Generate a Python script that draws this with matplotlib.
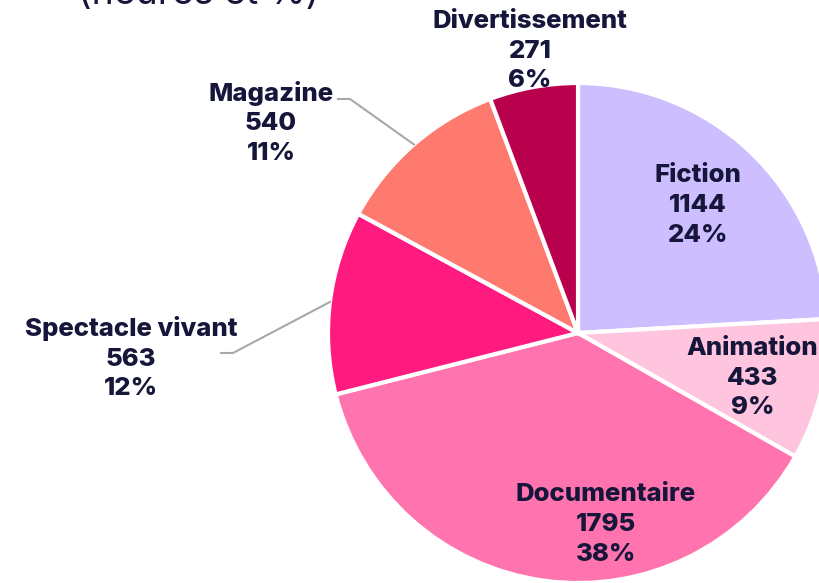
import numpy as np
import matplotlib.pyplot as plt

categories = ['Fiction', 'Animation', 'Documentaire', 'Spectacle vivant', 'Magazine', 'Divertissement']
heures = [1144, 433, 1795, 563, 540, 271]
colors = ['#CDBFFF', '#FFC4DE', '#FF73AE', '#FF1A7F', '#FF7A6E', '#B9004C']
title = '(heures et %)'

navy = '#15163A'
plt.rcParams['font.family'] = ['Inter', 'DejaVu Sans']

fig = plt.figure(figsize=(8.2, 5.83), dpi=100)
ax = fig.add_axes([0, 0, 1, 1])

cx, cy, R = 578, 250, 250
wedges, _ = ax.pie(heures, colors=colors, startangle=90, counterclock=False,
                   center=(cx, cy), radius=R,
                   wedgeprops=dict(edgecolor='white', linewidth=3))
ax.set_xlim(0, 820)
ax.set_ylim(0, 583)
ax.set_aspect('equal')
ax.axis('off')

total = sum(heures)
pct = [round(v / total * 100) for v in heures]

# label placement: (radius factor, angle nudge) for inside labels,
# (text x, text y, kink x, kink y, end x) for outside ones
inside = {'Fiction': (0.70, 0), 'Animation': (0.72, -1.3), 'Documentaire': (0.775, 16)}
outside = {'Magazine': (271, 460, 350, 484, 338),
           'Spectacle vivant': (131, 225, 233, 230, 221)}

for w, name, v, p in zip(wedges, categories, heures, pct):
    mid = np.deg2rad((w.theta1 + w.theta2) / 2)
    label = f'{name}\n{v}\n{p}%'
    kw = dict(ha='center', va='center', color=navy, fontsize=18.5,
              fontweight='heavy', linespacing=1.38)
    if name in inside:
        rf, nudge = inside[name]
        a = mid + np.deg2rad(nudge)
        ax.text(cx + rf * R * np.cos(a), cy + rf * R * np.sin(a), label, **kw)
    elif name in outside:
        tx, ty, kx, ky, ex = outside[name]
        ax.text(tx, ty, label, **kw)
        ex0, ey0 = cx + R * np.cos(mid), cy + R * np.sin(mid)
        ax.plot([ex0, kx, ex], [ey0, ky, ky], color='#A8A8A8', lw=1.5)
    else:
        ax.text(cx - 48, cy + R + 32, label, **kw)

fig.text(78 / 820, 1 - 4 / 583, title, ha='left', va='baseline',
         fontsize=27, color=navy)

fig.savefig('out.png', dpi=100)
